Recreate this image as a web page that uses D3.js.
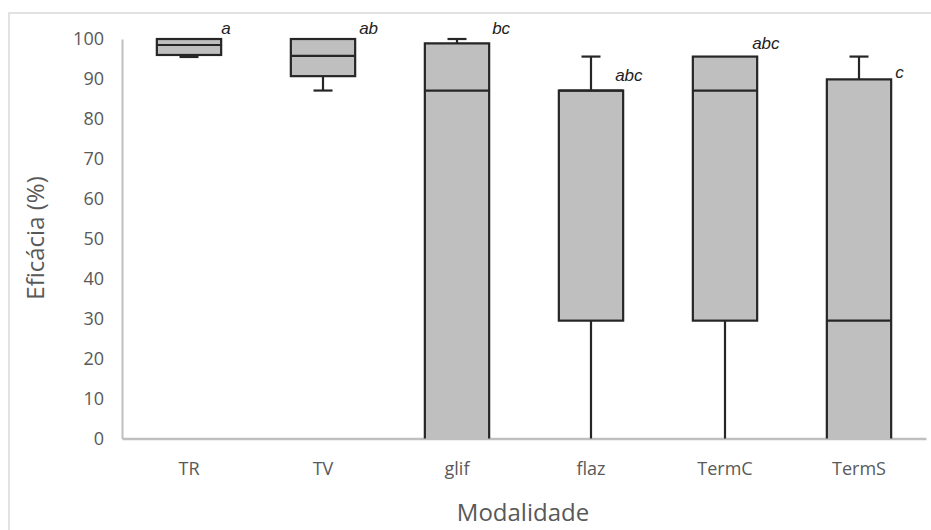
<!DOCTYPE html>
<html><head><meta charset="utf-8">
<script src="https://cdn.jsdelivr.net/npm/d3@7"></script>
<style>body{margin:0;background:#fff}svg{display:block}</style>
</head><body>
<svg id="c" width="931" height="530"></svg>
<script>
// ---- data ----
const categories = ["TR", "TV", "glif", "flaz", "TermC", "TermS"];
const minVals    = [95.5, 87.1, 0,    0,    0,    0];
const q1Vals     = [96.0, 90.7, 0,    29.5, 29.5, 0];
const medianVals = [98.5, 95.8, 87.1, 87.1, 87.1, 29.5];
const q3Vals     = [100,  100,  98.9, 87.1, 95.6, 89.9];
const maxVals    = [100,  100,  100,  95.6, 95.6, 95.6];
const groupLetters = ["a", "ab", "bc", "abc", "abc", "c"];
const letterLevels = [102.8, 102.8, 102.8, 91.0, 99.0, 91.7];
const yTicks = [0, 10, 20, 30, 40, 50, 60, 70, 80, 90, 100];
const xTitle = "Modalidade";
const yTitle = "Eficácia (%)";

// ---- layout ----
const letterDx = [0, 4, 3, -8, -5, 4];
const svg = d3.select("#c");
const mLeft = 122, mRight = 926, mTop = 39, mBottom = 438.5;

svg.append("rect").attr("x", 9).attr("y", 13).attr("width", 1000).attr("height", 1000)
  .attr("fill", "none").attr("stroke", "#d9d9d9").attr("stroke-width", 1.5);

const x = d3.scaleBand().domain(categories).range([mLeft, mRight]).padding(0);
const y = d3.scaleLinear().domain([0, 100]).range([mBottom, mTop]);

const data = categories.map((c, i) => ({
  c, min: minVals[i], q1: q1Vals[i], med: medianVals[i], q3: q3Vals[i], max: maxVals[i],
  letter: groupLetters[i], lv: letterLevels[i], dx: letterDx[i]
}));

// axes
const yAxis = svg.append("g").attr("transform", `translate(${mLeft},0)`)
  .call(d3.axisLeft(y).tickValues(yTicks).tickSize(0).tickPadding(18));
yAxis.select(".domain").attr("stroke", "#bfbfbf").attr("stroke-width", 2);
yAxis.selectAll("text").attr("fill", "#595959").style("font-family", "'Open Sans', sans-serif").style("font-size", "18px");

const xAxis = svg.append("g").attr("transform", `translate(0,${mBottom})`)
  .call(d3.axisBottom(x).tickSize(0).tickPadding(24));
xAxis.select(".domain").attr("stroke", "#bfbfbf").attr("stroke-width", 2.5);
xAxis.selectAll("text").attr("fill", "#595959").style("font-family", "'Open Sans', sans-serif").style("font-size", "18px");

// boxes
const bw = x.bandwidth() * 0.48;
const capW = 19;
const stroke = "#262626";
const sw = 2.2;
const g = svg.append("g");
data.forEach(d => {
  const cx = x(d.c) + x.bandwidth() / 2;
  if (d.max > d.q3) {
    g.append("line").attr("x1", cx).attr("x2", cx).attr("y1", y(d.q3)).attr("y2", y(d.max)).attr("stroke", stroke).attr("stroke-width", sw);
    g.append("line").attr("x1", cx - capW/2).attr("x2", cx + capW/2).attr("y1", y(d.max)).attr("y2", y(d.max)).attr("stroke", stroke).attr("stroke-width", sw);
  }
  if (d.min < d.q1) {
    g.append("line").attr("x1", cx).attr("x2", cx).attr("y1", y(d.q1)).attr("y2", y(d.min)).attr("stroke", stroke).attr("stroke-width", sw);
    if (d.min > 0)
      g.append("line").attr("x1", cx - capW/2).attr("x2", cx + capW/2).attr("y1", y(d.min)).attr("y2", y(d.min)).attr("stroke", stroke).attr("stroke-width", sw);
  }
  if (d.q1 > 0) {
    g.append("rect").attr("x", cx - bw/2).attr("y", y(d.q3)).attr("width", bw).attr("height", y(d.q1) - y(d.q3))
      .attr("fill", "#bfbfbf").attr("stroke", stroke).attr("stroke-width", sw);
  } else {
    g.append("rect").attr("x", cx - bw/2).attr("y", y(d.q3)).attr("width", bw).attr("height", y(d.q1) - y(d.q3))
      .attr("fill", "#bfbfbf").attr("stroke", "none");
    g.append("path").attr("d", `M${cx - bw/2},${y(d.q1)}V${y(d.q3)}H${cx + bw/2}V${y(d.q1)}`)
      .attr("fill", "none").attr("stroke", stroke).attr("stroke-width", sw);
  }
  g.append("line").attr("x1", cx - bw/2).attr("x2", cx + bw/2).attr("y1", y(d.med)).attr("y2", y(d.med)).attr("stroke", stroke).attr("stroke-width", sw);
  g.append("text").attr("x", cx + bw/2 + d.dx).attr("y", y(d.lv)).attr("dy", "0.35em")
    .attr("fill", "#222").style("font-family", "'Liberation Sans', Arial, sans-serif").style("font-style", "italic").style("font-size", "17px")
    .text(d.letter);
});

// titles
svg.append("text").attr("x", (mLeft + mRight) / 2 - 1).attr("y", 513).attr("dy", "0.35em").attr("text-anchor", "middle")
  .attr("fill", "#595959").style("font-family", "'Open Sans', sans-serif").style("font-size", "24px").text(xTitle);
svg.append("text").attr("transform", "translate(36,238) rotate(-90)").attr("dy", "0.35em").attr("text-anchor", "middle")
  .attr("fill", "#595959").style("font-family", "'Open Sans', sans-serif").style("font-size", "24px").text(yTitle);
</script>
</body></html>
